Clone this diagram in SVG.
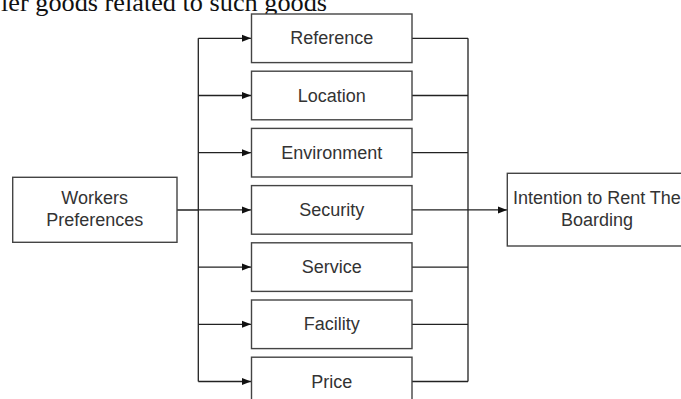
<svg xmlns="http://www.w3.org/2000/svg" width="681" height="399" viewBox="0 0 681 399">
<defs>
<marker id="arr" markerWidth="9" markerHeight="8" refX="9" refY="4" orient="auto" markerUnits="userSpaceOnUse">
<path d="M0,0.5 L9,4 L0,7.5 Z" fill="#111"/>
</marker>
<style>
.box{fill:#fff;stroke:#444;stroke-width:1.4}
.lbl{font-family:"Liberation Sans",Arial,sans-serif;font-size:18px;fill:#333;text-anchor:middle}
.ln{fill:none;stroke:#222;stroke-width:1.3}
</style>
</defs>
<rect width="681" height="399" fill="#fff"/>
<text x="1" y="11" font-family="Liberation Serif,'Times New Roman',serif" font-size="26" fill="#111" textLength="326" lengthAdjust="spacingAndGlyphs">ler goods related to such goods</text>
<g id="connectors">
<path class="ln" d="M177,210 H198.3 M198.3,38.3 V381.5"/>
<path class="ln" d="M198.3,38.3 H251" marker-end="url(#arr)"/>
<path class="ln" d="M198.3,95.5 H251" marker-end="url(#arr)"/>
<path class="ln" d="M198.3,152.7 H251" marker-end="url(#arr)"/>
<path class="ln" d="M198.3,209.9 H251" marker-end="url(#arr)"/>
<path class="ln" d="M198.3,267.1 H251" marker-end="url(#arr)"/>
<path class="ln" d="M198.3,324.3 H251" marker-end="url(#arr)"/>
<path class="ln" d="M198.3,381.5 H251" marker-end="url(#arr)"/>
<path class="ln" d="M412,38.3 H468 M412,95.5 H468 M412,152.7 H468 M412,209.9 H468 M412,267.1 H468 M412,324.3 H468 M412,381.5 H468 M468,38.3 V381.5"/>
<path class="ln" d="M468,209.9 H507" marker-end="url(#arr)"/>
</g>
<g id="workers"><rect class="box" x="12.7" y="177.3" width="164.3" height="65"/><text class="lbl" x="94.7" y="204">Workers</text><text class="lbl" x="94.7" y="225.7">Preferences</text></g>
<g id="reference"><rect class="box" x="251.5" y="14" width="160.5" height="48.6"/><text class="lbl" x="331.8" y="44.3">Reference</text></g>
<g id="location"><rect class="box" x="251.5" y="71.2" width="160.5" height="48.6"/><text class="lbl" x="331.8" y="101.5">Location</text></g>
<g id="environment"><rect class="box" x="251.5" y="128.4" width="160.5" height="48.6"/><text class="lbl" x="331.8" y="158.7">Environment</text></g>
<g id="security"><rect class="box" x="251.5" y="185.6" width="160.5" height="48.6"/><text class="lbl" x="331.8" y="215.9">Security</text></g>
<g id="service"><rect class="box" x="251.5" y="242.8" width="160.5" height="48.6"/><text class="lbl" x="331.8" y="273.1">Service</text></g>
<g id="facility"><rect class="box" x="251.5" y="300" width="160.5" height="48.6"/><text class="lbl" x="331.8" y="330.3">Facility</text></g>
<g id="price"><rect class="box" x="251.5" y="357.2" width="160.5" height="48.6"/><text class="lbl" x="331.8" y="387.5">Price</text></g>
<g id="intention"><rect class="box" x="507.3" y="173.3" width="180" height="72.7"/><text class="lbl" x="597" y="203.5">Intention to Rent The</text><text class="lbl" x="597" y="225.5">Boarding</text></g>
</svg>
